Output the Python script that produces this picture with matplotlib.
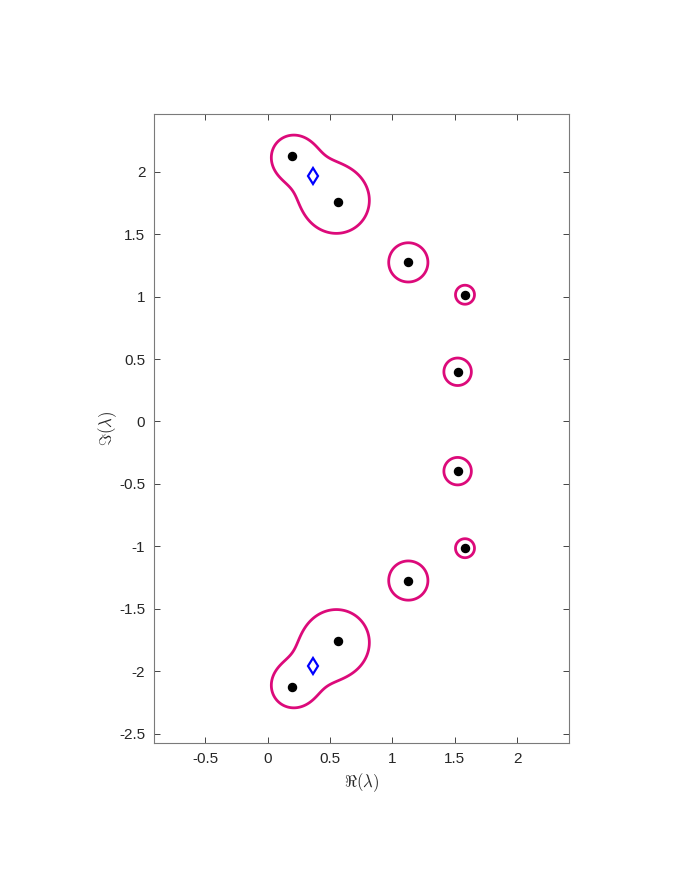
import numpy as np
import matplotlib
matplotlib.use("Agg")
import matplotlib.pyplot as plt

# eigenvalues in the upper half plane (lower half is the conjugate)
eig_re = [0.195, 0.561, 1.127, 1.581, 1.522]
eig_im = [2.128, 1.760, 1.274, 1.015, 0.398]
# per-eigenvalue weight (~ radius of the level curve), and cluster id
weights = [0.090, 0.195, 0.157, 0.076, 0.11]
groups = [0, 0, 1, 2, 3]
EXPO = 0.8   # how the terms of one cluster combine

# mean of the first cluster (blue diamonds)
mean_re = [0.363, 0.363]
mean_im = [1.962, -1.962]

xticks = [-0.5, 0, 0.5, 1, 1.5, 2]
yticks = [-2.5, -2, -1.5, -1, -0.5, 0, 0.5, 1, 1.5, 2]

CURVE = "#dc0a7a"

plt.rcParams["font.family"] = ["Liberation Sans", "DejaVu Sans"]
plt.rcParams["mathtext.fontset"] = "cm"

fig = plt.figure(figsize=(6.86, 8.88), dpi=100)
ax = fig.add_axes([0.224, 0.163, 0.6054, 0.7083])

lam = np.array(eig_re) + 1j * np.array(eig_im)
lam_all = np.concatenate([lam, lam.conj()])
w_all = np.array(weights + weights)
g_all = np.array(groups + [g + 10 for g in groups])

# level set: max over clusters of sum_i (w_i / |z - lambda_i|)^p == 1
xs = np.linspace(-0.95, 2.45, 900)
ys = np.linspace(-2.6, 2.5, 1300)
X, Y = np.meshgrid(xs, ys)
Z = X + 1j * Y
F = np.zeros_like(X)
for g in np.unique(g_all):
    s = np.zeros_like(X)
    for l, w in zip(lam_all[g_all == g], w_all[g_all == g]):
        s += (w / np.abs(Z - l)) ** EXPO
    F = np.maximum(F, s)
ax.contour(X, Y, F, levels=[1.0], colors=[CURVE], linewidths=2.0)

ax.plot(lam_all.real, lam_all.imag, "o", color="black", markersize=5.8, zorder=3)
ax.plot(mean_re, mean_im, "d", color="blue", markerfacecolor="white",
        markersize=8.5, markeredgewidth=1.6, zorder=3)

ax.set_xlim(-0.913, 2.414)
ax.set_ylim(-2.577, 2.46)
ax.set_aspect("equal", adjustable="datalim")
ax.set_xticks(xticks)
ax.set_xticklabels([f"{t:g}" for t in xticks])
ax.set_yticks(yticks)
ax.set_yticklabels([f"{t:g}" for t in yticks])
ax.tick_params(direction="in", top=True, right=True, length=4, width=0.6,
               color="#262626", labelcolor="#262626", labelsize=11, pad=6)
for sp in ax.spines.values():
    sp.set_color("#7a7a7a")
    sp.set_linewidth(0.8)

ax.set_xlabel(r"$\Re(\lambda)$", fontsize=12, color="#262626", labelpad=4)
ax.set_ylabel(r"$\Im(\lambda)$", fontsize=12, color="#262626", labelpad=0)

fig.savefig("out.png", dpi=100, facecolor="white")
